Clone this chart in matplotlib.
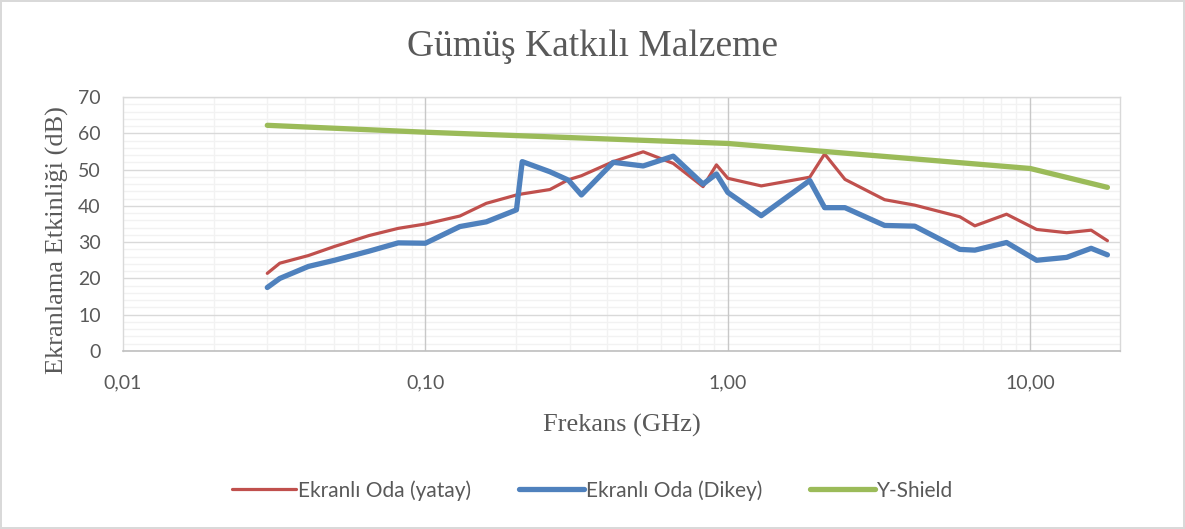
import matplotlib
matplotlib.use("Agg")
import matplotlib.pyplot as plt
from matplotlib.ticker import FixedLocator, LogLocator, NullFormatter, MultipleLocator

freq = [0.03, 0.033, 0.041, 0.05, 0.065, 0.0813, 0.1, 0.13, 0.159, 0.2, 0.209,
        0.258, 0.297, 0.328, 0.418, 0.525, 0.66, 0.828, 0.917, 1.0, 1.29, 1.866,
        2.09, 2.44, 3.3, 4.15, 5.85, 6.56, 8.35, 10.5, 13.2, 15.9, 18.0]
yatay = [21.4, 24.2, 26.3, 28.8, 31.8, 33.8, 35.0, 37.2, 40.7, 43.0, 43.3,
         44.5, 47.2, 48.3, 52.2, 54.9, 51.7, 45.3, 51.3, 47.6, 45.5, 47.9,
         54.3, 47.3, 41.7, 40.2, 37.0, 34.5, 37.7, 33.5, 32.6, 33.3, 30.4]
dikey = [17.5, 20.0, 23.3, 25.0, 27.5, 29.8, 29.7, 34.3, 35.6, 38.9, 52.2,
         49.4, 47.1, 43.0, 52.0, 51.0, 53.7, 46.0, 48.8, 43.7, 37.3, 47.0,
         39.5, 39.5, 34.6, 34.4, 28.0, 27.8, 29.9, 25.0, 25.8, 28.3, 26.5]
yshield_f = [0.03, 0.1, 1.0, 10.0, 18.0]
yshield = [62.2, 60.3, 57.2, 50.3, 45.1]

series_names = ["Ekranlı Oda (yatay)", "Ekranlı Oda (Dikey)", "Y-Shield"]
xtick_vals = [0.01, 0.1, 1, 10]
xtick_labels = ["0,01", "0,10", "1,00", "10,00"]

fig = plt.figure(figsize=(11.85, 5.29), dpi=100)
fig.patch.set_facecolor("white")
fig.patch.set_edgecolor("#D9D9D9")
fig.patch.set_linewidth(1.5)

ax = fig.add_axes([0.1038, 0.3365, 0.8413, 0.4801])
ax.set_xscale("log")
ax.set_xlim(0.01, 19.8)
ax.set_ylim(0, 70)

ax.xaxis.set_major_locator(FixedLocator(xtick_vals))
ax.set_xticklabels(xtick_labels)
ax.xaxis.set_minor_locator(LogLocator(base=10, subs=range(2, 10), numticks=20))
ax.xaxis.set_minor_formatter(NullFormatter())
ax.yaxis.set_major_locator(MultipleLocator(10))
ax.yaxis.set_minor_locator(MultipleLocator(2))

ax.grid(which="minor", axis="both", color="#F2F2F2", linewidth=1.0, zorder=0.3)
ax.grid(which="major", axis="y", color="#D9D9D9", linewidth=1.0, zorder=0.4)
ax.set_axisbelow(True)
for xv in xtick_vals[1:]:
    ax.axvline(xv, color="#C8C8C8", linewidth=1.0, zorder=0.6)

for s in ["top", "right", "left"]:
    ax.spines[s].set_color("#D9D9D9")
    ax.spines[s].set_linewidth(1.0)
ax.spines["bottom"].set_color("#BFBFBF")
ax.spines["bottom"].set_linewidth(1.2)

ax.tick_params(which="both", length=0, colors="#595959", labelsize=14)
ax.tick_params(axis="x", pad=17)
ax.tick_params(axis="y", pad=16)
for lab in ax.get_xticklabels() + ax.get_yticklabels():
    lab.set_fontfamily("Lato")

ax.plot(freq, yatay, color="#C0504D", linewidth=2.3, label=series_names[0],
        solid_joinstyle="round", solid_capstyle="round", zorder=3)
ax.plot(freq, dikey, color="#4F81BD", linewidth=3.8, label=series_names[1],
        solid_joinstyle="round", solid_capstyle="round", zorder=3)
ax.plot(yshield_f, yshield, color="#9BBB59", linewidth=3.8, label=series_names[2],
        solid_joinstyle="round", solid_capstyle="round", zorder=3)

fig.text(0.5, 0.912, "Gümüş Katkılı Malzeme", ha="center", va="center",
         fontsize=27, family="Liberation Serif", color="#595959")
ax.set_xlabel("Frekans (GHz)", fontsize=19, family="Liberation Serif",
              color="#595959", labelpad=16)
fig.text(57 / 1185, 1 - 240 / 529, "Ekranlama Etkinliği (dB)", rotation=90,
         ha="center", va="center", fontsize=19, family="Liberation Serif",
         color="#595959")

leg = fig.legend(loc="center", bbox_to_anchor=(0.5, 0.073), ncol=3, frameon=False,
                 handlelength=3.1, handletextpad=0.1, columnspacing=2.3,
                 prop={"family": "Lato", "size": 15})
for t in leg.get_texts():
    t.set_color("#595959")

fig.savefig("out.png", dpi=100, facecolor="white", edgecolor=fig.patch.get_edgecolor())
